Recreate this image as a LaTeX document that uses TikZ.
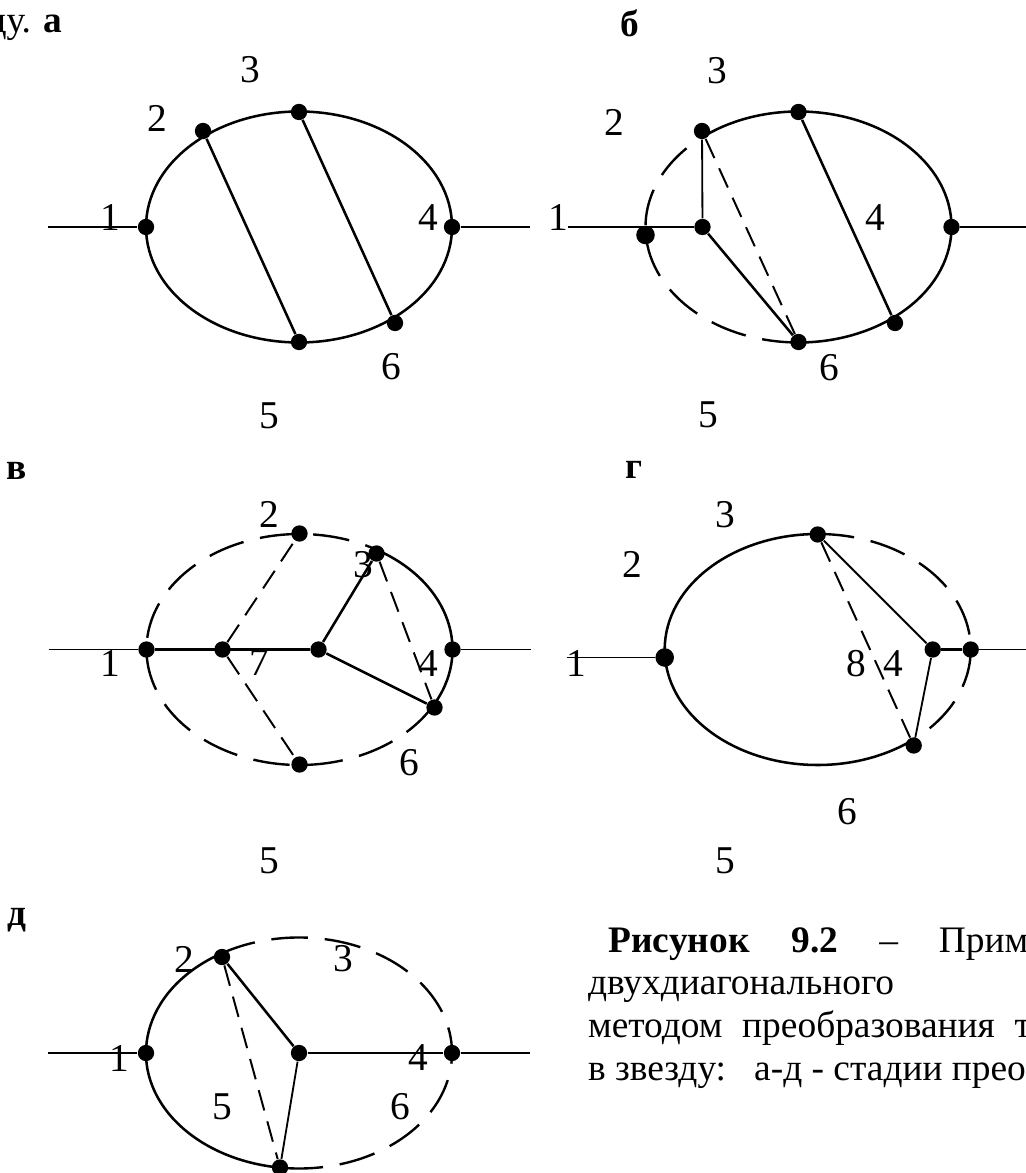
\documentclass[tikz,border=0pt]{standalone}
\usepackage{fontspec}
\setmainfont{Liberation Serif}
\usepackage{tikz}
\usetikzlibrary{positioning,calc}

\tikzset{
  dot/.style={circle,fill=black,draw=none,inner sep=0pt,minimum size=5.8pt},
  bigdot/.style={dot,minimum size=6.6pt},
  num/.style={inner sep=0pt,font=\fontsize{14}{16}\selectfont},
  letter/.style={inner sep=0pt,font=\fontsize{13.3}{15}\selectfont\bfseries},
  capt/.style={inner sep=0pt,anchor=base west},
  wire/.style={draw=black,line width=0.9pt},
  thinwire/.style={draw=black,line width=0.65pt},
  dashwire/.style={draw=black,line width=0.7pt,dash pattern=on 7.5pt off 4pt},
  dasharc/.style={draw=black,line width=0.85pt,dash pattern=on 13pt off 6pt},
  oval/.style={x radius=153,y radius=115.5}
}

\begin{document}
\begin{tikzpicture}[x=0.0125cm,y=-0.0125cm,font=\fontsize{13.3}{15}\selectfont]
  \useasboundingbox (0,0) rectangle (1025,1173);

  \node[capt] (headA) at (-13,33) {ду. \textbf{а}};
  \node[letter] (headB) at (630,23) {б};
  \node[letter] (headV) at (17,471) {в};
  \node[letter] (headG) at (634,470) {г};
  \node[letter] (headD) at (17,920) {д};

  % panel a
  \begin{scope}[shift={(299,227)}]
    \draw[wire] (0,0) ellipse [oval];
    \foreach \nm/\xx/\yy in {a1/-153/0,a2/-96/-96,a3/0/-115,a4/153/0,a6/96/96,a5/0/115} {
      \node[dot] (\nm) at (\xx,\yy) {};
    }
    \coordinate (aL) at (-251,0);
    \coordinate (aR) at (231,0);
    \draw[thinwire] (aL) -- (a1);
    \draw[thinwire] (a4) -- (aR);
    \draw[wire] (a2) -- (a5);
    \draw[wire] (a3) -- (a6);
    \foreach \xx/\yy/\lab in {-189/-9/1,-142/-109/2,-49/-157/3,129/-9/4,-30/189/5,92/140/6} {
      \node[num] (aN\lab) at (\xx,\yy) {\lab};
    }
  \end{scope}

  % panel b
  \begin{scope}[shift={(798.5,227)}]
    \draw[wire] (232.8:153 and 115.5) arc [start angle=232.8,end angle=450,oval];
    \draw[dasharc] (90:153 and 115.5) arc [start angle=90,end angle=232.8,oval];
    \foreach \nm/\xx/\yy in {b7/-96/0,b2/-96.5/-96,b3/0/-115,b4/153/0,b6/96.5/96,b5/0/115} {
      \node[dot] (\nm) at (\xx,\yy) {};
    }
    \node[bigdot] (b1) at (-153,8) {};
    \coordinate (bL) at (-230.5,0);
    \coordinate (bR) at (227,0);
    \draw[wire] (bL) -- (b7);
    \draw[thinwire] (b4) -- (bR);
    \draw[thinwire] (b2) -- (b7);
    \draw[wire] (b7) -- (b5);
    \draw[dashwire] (b2) -- (b5);
    \draw[wire] (b3) -- (b6);
    \foreach \xx/\yy/\lab in {-240.5/-9/1,-184.5/-105/2,-81.5/-156/3,76.5/-9/4,-90.5/188/5,30.5/141/6} {
      \node[num] (bN\lab) at (\xx,\yy) {\lab};
    }
  \end{scope}

  % panel v
  \begin{scope}[shift={(299.5,649.5)}]
    \draw[wire] (-58.5:153 and 115.5) arc [start angle=-58.5,end angle=29.6,oval];
    \draw[dasharc] (29.6:153 and 115.5) arc [start angle=29.6,end angle=301.5,oval];
    \foreach \nm/\xx/\yy in {v1/-153/0,v7/-77/0,v8/19/0,v2/0/-116,v3/77/-96,v4/153/0,v6/135/58,v5/0/115} {
      \node[dot] (\nm) at (\xx,\yy) {};
    }
    \coordinate (vL) at (-251,0);
    \coordinate (vR) at (231,0);
    \draw[thinwire] (vL) -- (v1);
    \draw[thinwire] (v4) -- (vR);
    \draw[wire] (v1) -- (v8);
    \draw[wire] (v8) -- (v3);
    \draw[wire] (v8) -- (v6);
    \draw[dashwire] (v7) -- (v2);
    \draw[dashwire] (v7) -- (v5);
    \draw[dashwire] (v3) -- (v6);
    \foreach \xx/\yy/\lab in {-189/14/1,-30/-135/2,64/-85/3,129/14/4,-30/211/5,110/113/6,-40/13/7} {
      \node[num] (vN\lab) at (\xx,\yy) {\lab};
    }
  \end{scope}

  % panel g
  \begin{scope}[shift={(817.7,649.5)}]
    \draw[wire] (-90:153 and 115.5) arc [start angle=-90,end angle=-307,oval];
    \draw[dasharc] (-90:153 and 115.5) arc [start angle=-90,end angle=53,oval];
    \foreach \nm/\xx/\yy in {g3/0/-115,g8/115/0,g4/153/0,g6/96/96} {
      \node[dot] (\nm) at (\xx,\yy) {};
    }
    \node[bigdot] (g1) at (-153,8) {};
    \coordinate (gL) at (-251,8);
    \coordinate (gR) at (208,0);
    \draw[thinwire] (gL) -- (g1);
    \draw[thinwire] (g4) -- (gR);
    \draw[wire] (g8) -- (g4);
    \draw[thinwire] (g3) -- (g8);
    \draw[thinwire] (g8) -- (g6);
    \draw[dashwire] (g3) -- (g6);
    \foreach \xx/\yy/\lab in {-241/14/1,-185/-85.5/2,-92/-134.5/3,76/14/4,-92/211/5,30/162/6,39/14/8} {
      \node[num] (gN\lab) at (\xx,\yy) {\lab};
    }
  \end{scope}

  % panel d
  \begin{scope}[shift={(299,1053)}]
    \draw[wire] (-121:153 and 115.5) arc [start angle=-121,end angle=-263,oval];
    \draw[dasharc] (-121:153 and 115.5) arc [start angle=-121,end angle=97,oval];
    \foreach \nm/\xx/\yy in {d1/-153/0,d2/-77/-96,d7/0/0,d4/153/0,d5/-19/114.5} {
      \node[dot] (\nm) at (\xx,\yy) {};
    }
    \coordinate (dL) at (-251,0);
    \coordinate (dR) at (231,0);
    \draw[thinwire] (dL) -- (d1);
    \draw[thinwire] (d4) -- (dR);
    \draw[thinwire] (d7) -- (d4);
    \draw[wire] (d2) -- (d7);
    \draw[thinwire] (d7) -- (d5);
    \draw[dashwire] (d2) -- (d5);
    \foreach \xx/\yy/\lab in {-180/5/1,-115/-94/2,44/-94/3,119/5/4,-77/54/5,101/54/6} {
      \node[num] (dN\lab) at (\xx,\yy) {\lab};
    }
  \end{scope}

  % caption, cut off at the right edge
  \node[capt] (captA) at (608,952) {\textbf{Рисунок}\hspace{15pt}\textbf{9.2}\hspace{14.5pt}–\hspace{14.5pt}Прим};
  \node[capt] (captB) at (587.5,994) {двухдиагонального};
  \node[capt] (captC) at (587.5,1037) {методом\hspace{7pt}преобразования\hspace{7pt}т};
  \node[capt] (captD) at (587.5,1080) {в звезду:\hspace{10pt}а-д - стадии прео};
\end{tikzpicture}
\end{document}
